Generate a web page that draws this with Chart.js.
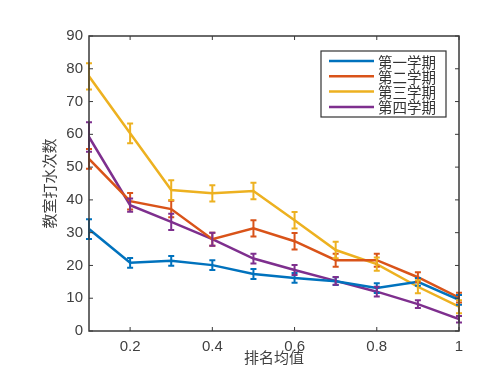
<!DOCTYPE html>
<html>
<head>
<meta charset="utf-8">
<script src="https://cdn.jsdelivr.net/npm/chart.js@4"></script>
<style>
  html, body { margin: 0; padding: 0; background: #fff; }
  #wrap { width: 500px; height: 388px; }
</style>
</head>
<body>
<div id="wrap"><canvas id="evoChart" width="500" height="388"></canvas></div>
<script>
const xValues = [0.1, 0.2, 0.3, 0.4, 0.5, 0.6, 0.7, 0.8, 0.9, 1.0];
const xTicks = [0.2, 0.4, 0.6, 0.8, 1];
const yTicks = [0, 10, 20, 30, 40, 50, 60, 70, 80, 90];
const labels = ['第一学期', '第二学期', '第三学期', '第四学期'];
const colors = ['#0072BD', '#D95319', '#EDB120', '#7E2F8E'];

const term1 = [31.1, 20.8, 21.4, 20.1, 17.4, 16.2, 15.2, 13.1, 15.0, 9.5];
const term2 = [52.5, 39.6, 37.2, 28.0, 31.3, 27.4, 21.6, 21.6, 16.4, 10.2];
const term3 = [77.7, 60.3, 43.0, 42.0, 42.7, 33.8, 24.7, 20.4, 13.5, 7.4];
const term4 = [59.2, 38.4, 33.3, 28.0, 22.1, 18.6, 15.3, 12.0, 8.2, 3.6];

const err1 = [3, 1.5, 1.5, 1.5, 1.5, 1.5, 1.2, 1.5, 1.2, 1.5];
const err2 = [3, 2.5, 2.5, 2, 2.5, 2.5, 2, 2, 1.5, 1.5];
const err3 = [4, 3, 3, 2.5, 2.5, 2.5, 2.5, 2, 2, 2];
const err4 = [4.5, 2, 2.5, 2, 1.5, 1.5, 1.2, 1.5, 1.2, 1];

const series = [term1, term2, term3, term4];
const errors = [err1, err2, err3, err4];

const axisColor = '#3a3a3a';
const font = "'Liberation Sans', 'DejaVu Sans', sans-serif";
const cjkFont = "'Noto Sans CJK SC', sans-serif";

// error bars, inner ticks, box and legend
const extras = {
  id: 'extras',
  afterDatasetsDraw(chart) {
    const ctx = chart.ctx;
    const xs = chart.scales.x, ys = chart.scales.y;
    ctx.save();
    chart.data.datasets.forEach((ds, i) => {
      ctx.strokeStyle = ds.borderColor;
      ctx.lineWidth = 2;
      ds.data.forEach((p, j) => {
        const e = errors[i][j];
        const px = xs.getPixelForValue(p.x);
        const top = ys.getPixelForValue(p.y + e);
        const bot = ys.getPixelForValue(p.y - e);
        ctx.beginPath();
        ctx.moveTo(px, top); ctx.lineTo(px, bot);
        ctx.moveTo(px - 3, top); ctx.lineTo(px + 3, top);
        ctx.moveTo(px - 3, bot); ctx.lineTo(px + 3, bot);
        ctx.stroke();
      });
    });
    ctx.restore();
  },
  afterDraw(chart) {
    const ctx = chart.ctx;
    const a = chart.chartArea;
    const xs = chart.scales.x, ys = chart.scales.y;
    ctx.save();
    ctx.strokeStyle = axisColor;
    ctx.lineWidth = 1.5;
    ctx.strokeRect(a.left, a.top, a.right - a.left, a.bottom - a.top);
    ctx.lineWidth = 1;
    ctx.beginPath();
    xTicks.forEach(v => {
      const px = xs.getPixelForValue(v);
      ctx.moveTo(px, a.bottom); ctx.lineTo(px, a.bottom - 4);
      ctx.moveTo(px, a.top); ctx.lineTo(px, a.top + 4);
    });
    yTicks.forEach(v => {
      const py = ys.getPixelForValue(v);
      ctx.moveTo(a.left, py); ctx.lineTo(a.left + 4, py);
      ctx.moveTo(a.right, py); ctx.lineTo(a.right - 4, py);
    });
    ctx.stroke();

    // legend box
    const lx = 321, ly = 51, lw = 125, lh = 66;
    ctx.fillStyle = '#fff';
    ctx.fillRect(lx, ly, lw, lh);
    ctx.strokeStyle = '#333';
    ctx.lineWidth = 1.2;
    ctx.strokeRect(lx, ly, lw, lh);
    ctx.font = '14.5px ' + cjkFont;
    ctx.textBaseline = 'middle';
    chart.data.datasets.forEach((ds, i) => {
      const cy = ly + 10 + i * 15.3;
      ctx.strokeStyle = ds.borderColor;
      ctx.lineWidth = 2.5;
      ctx.beginPath();
      ctx.moveTo(lx + 8, cy); ctx.lineTo(lx + 53, cy);
      ctx.stroke();
      ctx.fillStyle = '#333';
      ctx.fillText(ds.label, lx + 57, cy + 1);
    });
    ctx.restore();
  }
};

new Chart('evoChart', {
  type: 'line',
  data: {
    datasets: series.map((s, i) => ({
      label: labels[i],
      data: s.map((v, j) => ({ x: xValues[j], y: v })),
      borderColor: colors[i],
      backgroundColor: colors[i],
      borderWidth: 2.5,
      pointRadius: 0,
      fill: false,
      tension: 0
    }))
  },
  options: {
    responsive: false,
    animation: false,
    layout: { padding: { left: 0, top: 36, right: 41, bottom: 0 } },
    plugins: {
      legend: { display: false },
      tooltip: { enabled: false }
    },
    scales: {
      x: {
        type: 'linear',
        min: 0.1,
        max: 1,
        afterBuildTicks: s => { s.ticks = xTicks.map(v => ({ value: v })); },
        afterFit: s => { s.height = 57; },
        grid: { display: false, drawTicks: false },
        border: { display: false },
        ticks: {
          color: '#404040',
          font: { family: font, size: 15 },
          padding: 7,
          maxRotation: 0,
          callback: v => String(v)
        },
        title: {
          display: true,
          text: '排名均值',
          color: '#404040',
          font: { family: cjkFont, size: 15 },
          padding: { top: 0, bottom: 22 }
        }
      },
      y: {
        min: 0,
        max: 90,
        afterBuildTicks: s => { s.ticks = yTicks.map(v => ({ value: v })); },
        afterFit: s => { s.width = 89; },
        grid: { display: false, drawTicks: false },
        border: { display: false },
        ticks: {
          color: '#404040',
          font: { family: font, size: 15 },
          padding: 6
        },
        title: {
          display: true,
          text: '教室打水次数',
          color: '#404040',
          font: { family: cjkFont, size: 15 },
          padding: { top: 40, bottom: 0 }
        }
      }
    }
  },
  plugins: [extras]
});
</script>
</body>
</html>
